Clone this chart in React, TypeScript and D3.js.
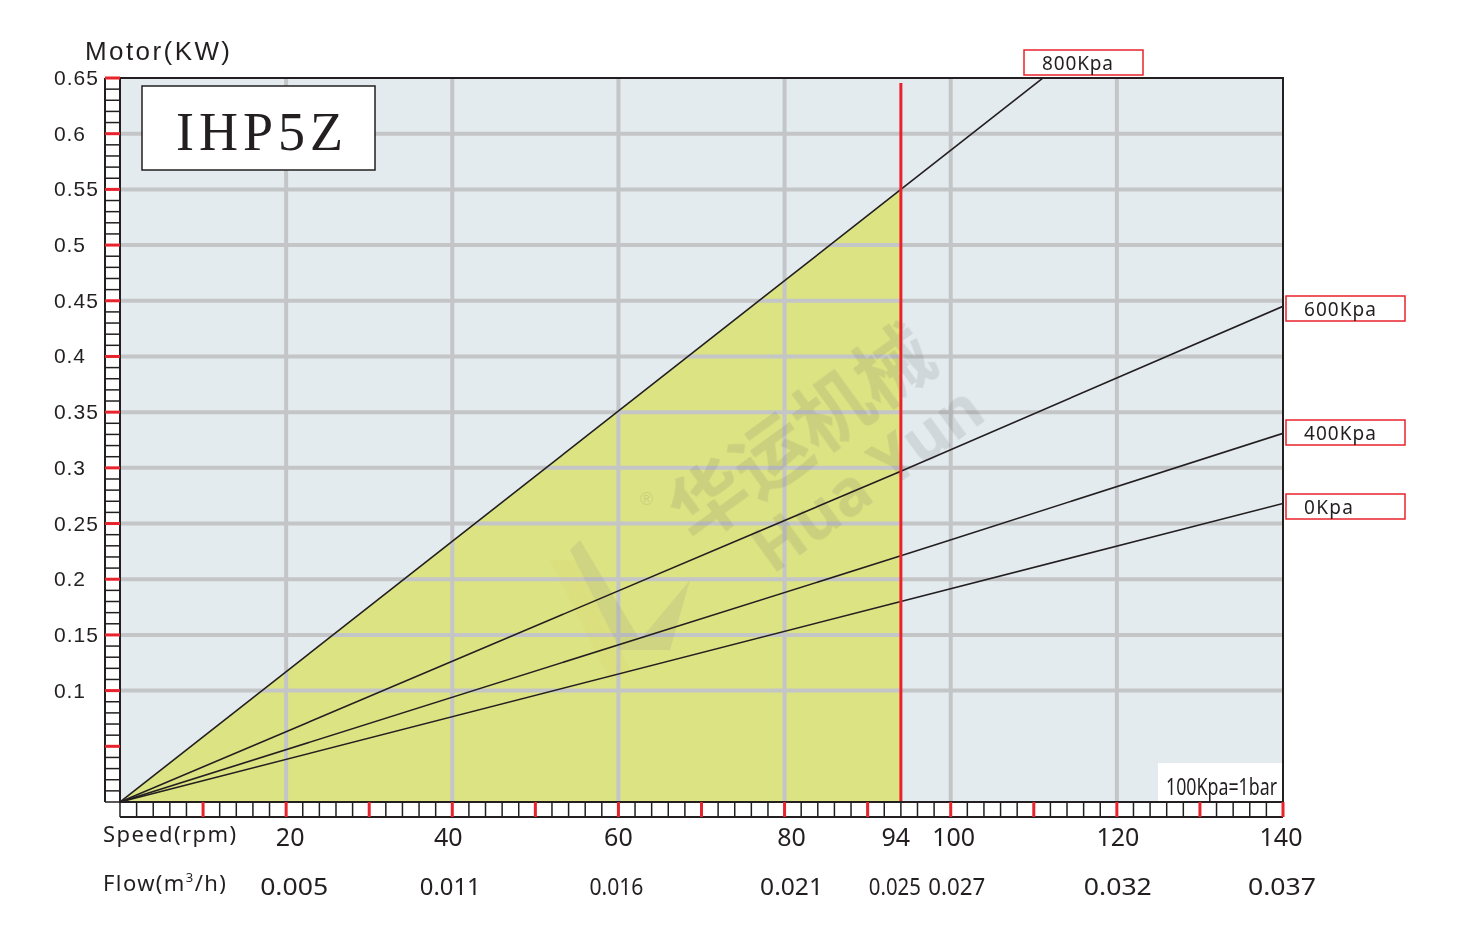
import React from "react";
import * as d3 from "d3";

const speedTicks = [20, 40, 60, 80, 94, 100, 120, 140];
const flowLabels = ["0.005", "0.011", "0.016", "0.021", "0.025", "0.027", "0.032", "0.037"];
const yTickValues = [0.1, 0.15, 0.2, 0.25, 0.3, 0.35, 0.4, 0.45, 0.5, 0.55, 0.6, 0.65];
const gridX = [20, 40, 60, 80, 100, 120];
const seriesNames = ["800Kpa", "600Kpa", "400Kpa", "0Kpa"];
const seriesSpeed = [0, 94, 140];
const s800 = [0, 0.55, 0.819];
const s600 = [0, 0.297, 0.445];
const s400 = [0, 0.221, 0.331];
const s0 = [0, 0.18, 0.268];
const ratedSpeed = 94;

export default function App() {
  const W = 1457, H = 931;
  const x0 = 120, x1 = 1283, yTop = 78, yBot = 802;
  const x = d3.scaleLinear().domain([0, 140]).range([x0, x1]);
  const y = d3.scaleLinear().domain([0, 0.65]).range([yBot, yTop]);
  const allSeries = [s800, s600, s400, s0];
  const line = d3.line<[number, number]>().x(d => x(d[0])).y(d => y(d[1]));
  const toPts = (vals: number[]) => seriesSpeed.map((s, i) => [s, vals[i]] as [number, number]);

  const fillPts: [number, number][] = [[0, 0], [ratedSpeed, s800[1]], [ratedSpeed, 0]];

  const red = "#e8232b";
  const ink = "#231f20";
  const minorY = d3.range(0, 66).map(i => i / 100);
  const minorX = d3.range(0, 141, 2);
  const sans = "'Liberation Sans', Arial, sans-serif";
  const noto = "'Noto Sans', 'Open Sans', sans-serif";

  const legendPos = [
    { x: 1024, y: 50 },
    { x: 1286, y: 296 },
    { x: 1286, y: 420 },
    { x: 1286, y: 494 },
  ];
  const legendW = [71, 72, 72, 49];
  const speedNudge = [4, -4, 0, 7, -5, 3, 1, -2];
  const flowNudge = [8, -2, -2, 7, -6, 6, 1, -1];
  const flowW = [68, 61, 54, 63, 52, 57, 68, 68];

  return (
    <svg width={W} height={H} style={{ position: "absolute", left: 0, top: 0, background: "#fff" }}>
      <defs>
        <clipPath id="plotclip">
          <rect x={x0} y={yTop} width={x1 - x0} height={yBot - yTop} />
        </clipPath>
      </defs>
      <rect x={x0} y={yTop} width={x1 - x0} height={yBot - yTop} fill="#e3ebee" />
      <path d={line(fillPts) + "Z"} fill="#dce383" />
      {yTickValues.slice(0, -1).map(v => (
        <line key={"gy" + v} x1={x0} x2={x1} y1={y(v)} y2={y(v)} stroke="#c4c5c7" strokeWidth={4} />
      ))}
      {gridX.map(v => (
        <line key={"gx" + v} x1={x(v)} x2={x(v)} y1={yTop} y2={yBot} stroke="#c4c5c7" strokeWidth={4} />
      ))}
      {/* watermark */}
      <g opacity={0.13} fill="#555">
        <g transform="translate(695,545) rotate(-36)">
          <text x={0} y={0} fontSize={76} fontFamily="'Noto Sans CJK SC', sans-serif" fontWeight={700}>华运机械</text>
          <text x={45} y={70} fontSize={64} fontFamily={noto} fontWeight={700}>Hua Yun</text>
        </g>
        <g transform="translate(520,520)">
          <path d="M30,40 L90,160 L110,150 L60,40 Z" fill="#d9c45a" opacity={0.9} />
          <path d="M60,20 L120,120 L170,60 L150,130 L100,130 L50,30 Z" fill="#777" />
        </g>
        <text x={640} y={505} fontSize={18} fontFamily={sans}>®</text>
      </g>
      <g clipPath="url(#plotclip)">
        {allSeries.map((s, i) => (
          <path key={"s" + i} d={line(toPts(s)) || ""} fill="none" stroke={ink} strokeWidth={1.6} />
        ))}
      </g>
      <line x1={x(ratedSpeed)} x2={x(ratedSpeed)} y1={yTop + 5} y2={yBot} stroke={red} strokeWidth={3} />
      <rect x={x0} y={yTop} width={x1 - x0} height={yBot - yTop} fill="none" stroke={ink} strokeWidth={2} />
      {/* left ladder */}
      <line x1={105} x2={105} y1={yTop} y2={yBot} stroke={ink} strokeWidth={2} />
      {minorY.map(v => (
        <line key={"my" + v} x1={105} x2={x0} y1={y(v)} y2={y(v)} stroke={ink} strokeWidth={1.5} />
      ))}
      {d3.range(1, 14).map(i => i * 0.05).map(v => (
        <line key={"ry" + v} x1={105} x2={x0} y1={y(v)} y2={y(v)} stroke={red} strokeWidth={3} />
      ))}
      {/* bottom ladder */}
      <line x1={x0} x2={x1} y1={817} y2={817} stroke={ink} strokeWidth={2} />
      {minorX.map(v => (
        <line key={"mx" + v} x1={x(v)} x2={x(v)} y1={yBot} y2={817} stroke={ink} strokeWidth={1.5} />
      ))}
      {d3.range(1, 15).map(i => i * 10).map(v => (
        <line key={"rx" + v} x1={x(v)} x2={x(v)} y1={yBot} y2={817} stroke={red} strokeWidth={3} />
      ))}
      {/* y tick labels */}
      {yTickValues.map(v => {
        const t = String(+v.toFixed(2));
        return (
          <text key={"yl" + v} x={54} y={y(v) + 7} fontSize={21} fontFamily={sans} fill={ink}
            textLength={t.length === 4 ? 44 : 31} lengthAdjust="spacing">
            {t}
          </text>
        );
      })}
      <text x={85} y={60} fontSize={26} fontFamily={sans} fill={ink} textLength={145} lengthAdjust="spacing">Motor(KW)</text>
      {/* x labels */}
      <text x={103} y={842} fontSize={22} fontFamily={noto} fill={ink} textLength={133} lengthAdjust="spacing">Speed(rpm)</text>
      <text x={103} y={891} fontSize={22} fontFamily={noto} fill={ink} letterSpacing={1.4}>
        Flow(m<tspan dy={-9} fontSize={13}>3</tspan><tspan dy={9}>/h)</tspan>
      </text>
      {speedTicks.map((v, i) => (
        <text key={"sx" + v} x={x(v) + speedNudge[i]} y={846} fontSize={25} fontFamily={noto} textAnchor="middle" fill={ink}>
          {v}
        </text>
      ))}
      {speedTicks.map((v, i) => (
        <text key={"fx" + v} x={x(v) + flowNudge[i]} y={895} fontSize={23} fontFamily={noto} textAnchor="middle" fill={ink}
          textLength={flowW[i]} lengthAdjust="spacingAndGlyphs">
          {flowLabels[i]}
        </text>
      ))}
      {/* title box */}
      <rect x={142} y={86} width={233} height={84} fill="#fff" stroke={ink} strokeWidth={1.5} />
      <text x={176} y={150} fontSize={54} fontFamily="'Liberation Serif', 'DejaVu Serif', serif" fill={ink}
        textLength={167} lengthAdjust="spacing">IHP5Z</text>
      {/* legend boxes */}
      {seriesNames.map((n, i) => (
        <g key={"lg" + n}>
          <rect x={legendPos[i].x} y={legendPos[i].y} width={119} height={25} fill="#fff" stroke={red} strokeWidth={1.5} />
          <text x={legendPos[i].x + 18} y={legendPos[i].y + 20} fontSize={19} fontFamily={noto} fill={ink}
            textLength={legendW[i]} lengthAdjust="spacing">{n}</text>
        </g>
      ))}
      <rect x={1158} y={763} width={124} height={38} fill="#fff" />
      <text x={1166} y={795} fontSize={24} fontFamily={noto} fill={ink} textLength={111} lengthAdjust="spacingAndGlyphs">100Kpa=1bar</text>
    </svg>
  );
}
